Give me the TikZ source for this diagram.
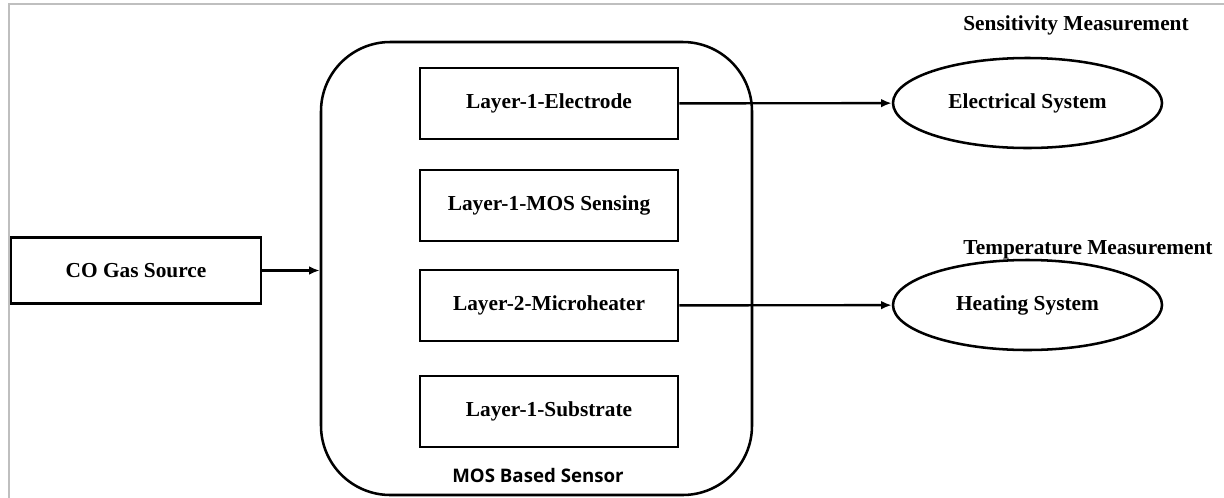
\documentclass[tikz,border=0pt]{standalone}
\usepackage{fontspec}
\setmainfont{Liberation Serif}
\newfontfamily\sensorfont{Open Sans}
\usepackage{tikz}
\usetikzlibrary{arrows.meta}
\usetikzlibrary{shapes.geometric}
\usetikzlibrary{positioning}

\begin{document}
\begin{tikzpicture}[x=0.75pt,y=-0.75pt,
    layer/.style={draw,line width=1.9pt,rectangle,minimum width=193.5pt,minimum height=53.25pt,font=\fontsize{16}{19}\selectfont\bfseries},
    system/.style={draw,line width=1.9pt,ellipse,minimum width=201.75pt,minimum height=67.5pt,font=\fontsize{16}{19}\selectfont\bfseries},
    heading/.style={font=\fontsize{16}{19}\selectfont\bfseries},
    link/.style={draw,line width=1.8pt,-{Latex[length=8pt,width=6.5pt]}}]

  \useasboundingbox (0,0) rectangle (1224,497);
  \draw [line width=1.2pt,color=black!25] (9,500) -- (9,4) -- (1230,4);

  % sensor stack
  \node [draw,line width=1.9pt,rectangle,rounded corners=52pt,minimum width=323.25pt,minimum height=339.75pt] (sensor) at (536.5,268.5) {};
  \node [font=\sensorfont\fontsize{14}{17}\selectfont\bfseries] (sensorlab) at (538,475) {MOS Based Sensor};

  \node [layer] (electrode) at (549,103.5) {Layer-1-Electrode};
  \node [layer] (sensing)   at (549,205.5) {Layer-1-MOS Sensing};
  \node [layer] (heater)    at (549,305.5) {Layer-2-Microheater};
  \node [layer] (substrate) at (549,411.5) {Layer-1-Substrate};

  % source and outputs
  \node [layer,minimum width=187.5pt,minimum height=49.5pt] (source) at (136,270.5) {CO Gas Source};

  \node [system] (elsys)   at (1027.5,103) {Electrical System};
  \node [system] (heatsys) at (1027.5,305) {Heating System};

  \node [heading] (senslab) at (1076,25)  {Sensitivity Measurement};
  \node [heading] (templab) at (1088,250) {Temperature Measurement};

  \path [link] (source) -- (sensor.west |- source);
  \path [link] (electrode) -- (elsys);
  \path [link] (heater) -- (heatsys);

\end{tikzpicture}
\end{document}
